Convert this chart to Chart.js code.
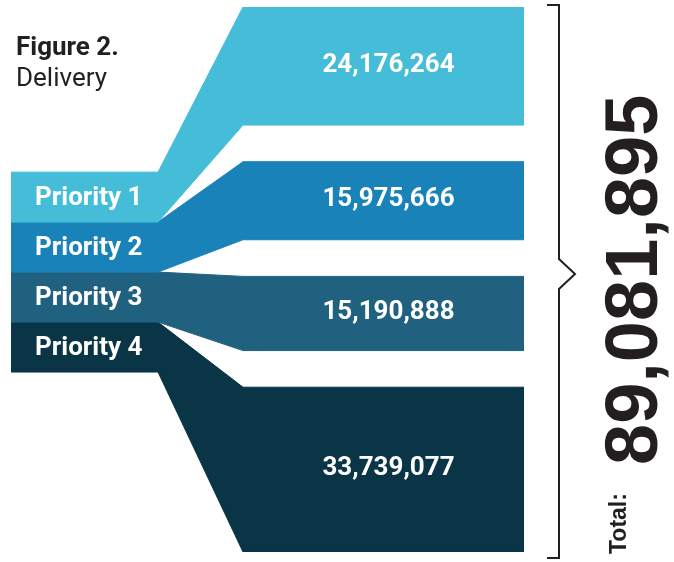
<!DOCTYPE html>
<html>
<head>
<meta charset="utf-8">
<script src="https://cdn.jsdelivr.net/npm/chart.js@4.4.1/dist/chart.umd.min.js"></script>
<style>
  body { margin: 0; background: #fff; }
  #wrap { width: 674px; height: 562px; position: relative; }
</style>
</head>
<body>
<div id="wrap"><canvas id="funnel"></canvas></div>
<script>
// data
const categories = ['Priority 1', 'Priority 2', 'Priority 3', 'Priority 4'];
const deliveries = [24176264, 15975666, 15190888, 33739077];
const colors = ['#45bdd9', '#1982b9', '#216180', '#093546'];
const figureTitle = 'Figure 2.';
const figureSubtitle = 'Delivery';
const totalLabel = 'Total:';

// layout (x in canvas-like units, y gaps in value units)
const GAP = 7.5e6;
const BOX_LEFT = 11, BOX_RIGHT = 158, BAR_LEFT = 243, BAR_RIGHT = 524;
const LEFT_TOP_FRAC = 0.303, LEFT_BOX_FRAC = 0.0917;
const ink = '#231f20';

const total = deliveries.reduce((a, b) => a + b, 0);
const yMax = total + GAP * (deliveries.length - 1);
const leftTop = yMax * LEFT_TOP_FRAC;
const boxH = yMax * LEFT_BOX_FRAC;

// bar tops in value units
const barTops = [];
let acc = 0;
deliveries.forEach(v => {
    barTops.push(acc);
    acc += v + GAP;
});

const datasets = [];
deliveries.forEach((v, i) => {
    const lTop = leftTop + i * boxH;
    const lBot = lTop + boxH;
    const rTop = barTops[i];
    const rBot = rTop + v;
    const common = {
        showLine: true,
        pointRadius: 0,
        borderWidth: 1,
        borderColor: colors[i],
        backgroundColor: colors[i]
    };
    // upper edge, then lower edge filled up to it
    datasets.push({ ...common, fill: false, data: [
        { x: BOX_LEFT, y: lTop }, { x: BOX_RIGHT, y: lTop },
        { x: BAR_LEFT, y: rTop }, { x: BAR_RIGHT, y: rTop }
    ]});
    datasets.push({ ...common, fill: '-1', data: [
        { x: BOX_LEFT, y: lBot }, { x: BOX_RIGHT, y: lBot },
        { x: BAR_LEFT, y: rBot }, { x: BAR_RIGHT, y: rBot }
    ]});
});

const labelsPlugin = {
    id: 'funnelLabels',
    afterDraw(chart) {
        const { ctx, scales: { x, y } } = chart;
        ctx.save();

        // title
        ctx.fillStyle = ink;
        ctx.textAlign = 'left';
        ctx.textBaseline = 'alphabetic';
        ctx.font = 'bold 26px Roboto';
        ctx.fillText(figureTitle, 16, 55);
        ctx.font = '26px Roboto';
        ctx.fillText(figureSubtitle, 16, 86);

        // priority boxes
        ctx.fillStyle = '#fff';
        ctx.textBaseline = 'middle';
        ctx.font = 'bold 26px Roboto';
        categories.forEach((c, i) => {
            const cy = y.getPixelForValue(leftTop + (i + 0.5) * boxH);
            ctx.fillText(c, 35, cy + 1);
        });

        // bar values (sit a little right of centre, like the original)
        ctx.textAlign = 'center';
        const cx = x.getPixelForValue((BAR_LEFT + BAR_RIGHT) / 2) + 5;
        deliveries.forEach((v, i) => {
            const cy = y.getPixelForValue(barTops[i] + v / 2);
            ctx.fillText(v.toLocaleString('en-US'), cx, cy - 1);
        });

        // brace
        const top = y.getPixelForValue(0) - 2;
        const bot = y.getPixelForValue(yMax) + 6;
        const mid = 274;
        ctx.strokeStyle = ink;
        ctx.lineWidth = 2;
        ctx.beginPath();
        ctx.moveTo(547, top);
        ctx.lineTo(559, top);
        ctx.lineTo(559, mid - 15);
        ctx.lineTo(575, mid);
        ctx.lineTo(559, mid + 15);
        ctx.lineTo(559, bot);
        ctx.lineTo(547, bot);
        ctx.stroke();

        // total, rotated
        ctx.fillStyle = ink;
        ctx.textAlign = 'left';
        ctx.textBaseline = 'alphabetic';
        ctx.translate(626, 554);
        ctx.rotate(-Math.PI / 2);
        ctx.font = 'bold 23px "Liberation Sans"';
        ctx.fillText(totalLabel, 0, 0);
        ctx.font = 'bold 74px "Liberation Sans"';
        ctx.fillText(total.toLocaleString('en-US'), 89, 31);
        ctx.restore();
    }
};

new Chart(document.getElementById('funnel'), {
    type: 'scatter',
    data: { datasets: datasets },
    options: {
        responsive: true,
        maintainAspectRatio: false,
        animation: false,
        layout: { padding: { top: 7, bottom: 10, left: 0, right: 0 } },
        scales: {
            x: { type: 'linear', min: 0, max: 674, display: false },
            y: { type: 'linear', min: 0, max: yMax, reverse: true, display: false }
        },
        plugins: {
            legend: { display: false },
            tooltip: { enabled: false }
        }
    },
    plugins: [labelsPlugin]
});
</script>
</body>
</html>
